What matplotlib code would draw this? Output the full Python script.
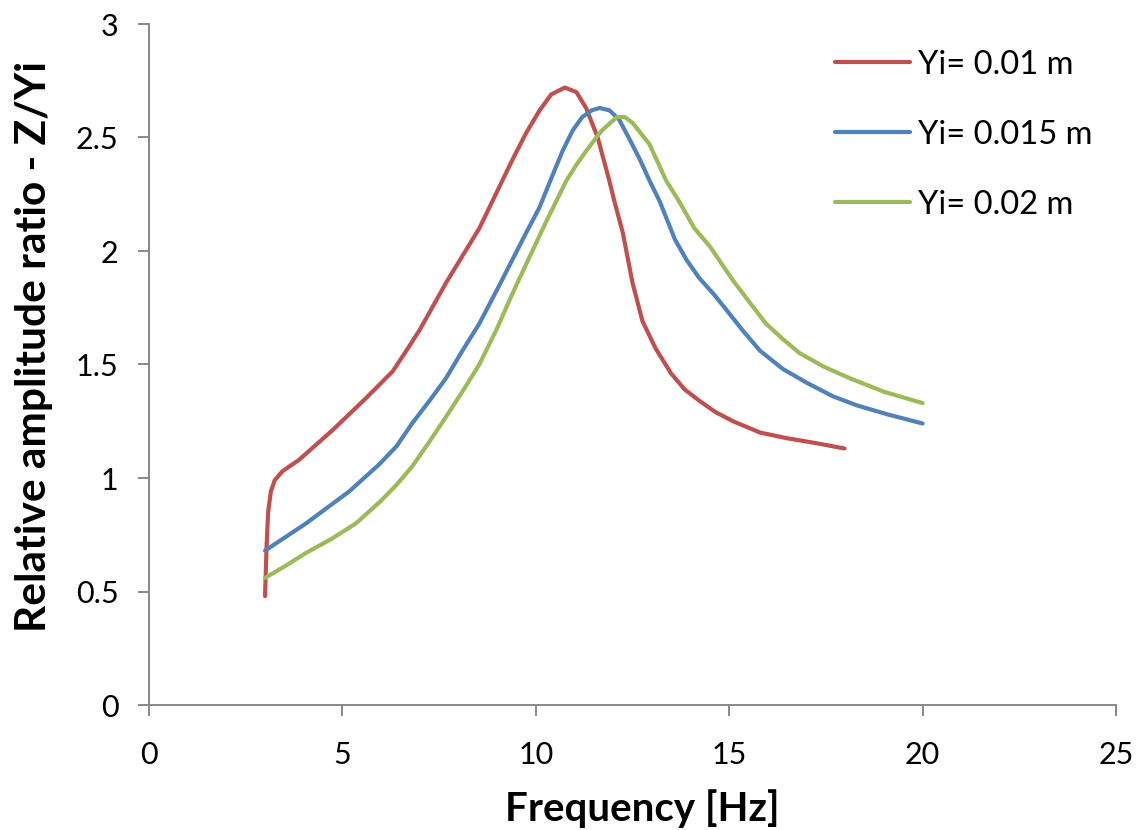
import matplotlib
matplotlib.use("Agg")
import matplotlib.pyplot as plt

# Data (frequency in Hz, relative amplitude Z/Yi)
x_r = [3.0, 3.04, 3.08, 3.15, 3.25, 3.45, 3.88, 4.74, 5.6, 6.3, 6.65, 6.99, 7.68, 8.54, 9.39, 9.75,
       10.1, 10.4, 10.75, 11.05, 11.3, 11.6, 11.9, 12.03, 12.25, 12.5, 12.76, 13.1, 13.5, 13.85,
       14.23, 14.65, 15.1, 15.8, 16.5, 17.2, 17.98]
y_r = [0.48, 0.70, 0.85, 0.94, 0.99, 1.03, 1.08, 1.21, 1.35, 1.47, 1.56, 1.65, 1.86, 2.10, 2.40, 2.52,
       2.62, 2.69, 2.72, 2.70, 2.63, 2.50, 2.31, 2.22, 2.08, 1.86, 1.69, 1.57, 1.46, 1.39,
       1.34, 1.29, 1.25, 1.20, 1.175, 1.155, 1.13]

x_b = [3.0, 4.06, 5.17, 5.95, 6.4, 6.8, 7.25, 7.68, 8.1, 8.54, 9.0, 9.39, 9.75, 10.09, 10.4, 10.69,
       10.95, 11.2, 11.45, 11.65, 11.9, 12.15, 12.4, 12.7, 12.94, 13.2, 13.6, 13.9, 14.23, 14.6,
       14.93, 15.35, 15.8, 16.39, 17.0, 17.68, 18.3, 19.1, 20.0]
y_b = [0.68, 0.80, 0.94, 1.06, 1.14, 1.24, 1.34, 1.44, 1.56, 1.68, 1.83, 1.96, 2.08, 2.19, 2.32, 2.44,
       2.53, 2.59, 2.62, 2.63, 2.62, 2.58, 2.50, 2.40, 2.31, 2.22, 2.05, 1.96, 1.88, 1.81,
       1.74, 1.65, 1.56, 1.48, 1.42, 1.36, 1.32, 1.28, 1.24]

x_g = [3.0, 3.5, 4.06, 4.7, 5.35, 6.0, 6.4, 6.8, 7.25, 7.68, 8.1, 8.54, 9.0, 9.39, 9.8, 10.27,
       10.79, 11.05, 11.3, 11.7, 12.1, 12.3, 12.5, 12.8, 12.94, 13.37, 13.7, 14.1, 14.5, 15.1,
       15.5, 15.95, 16.4, 16.82, 17.45, 18.11, 19.0, 20.0]
y_g = [0.56, 0.61, 0.67, 0.73, 0.80, 0.90, 0.97, 1.05, 1.16, 1.27, 1.38, 1.50, 1.66, 1.81, 1.96, 2.13,
       2.31, 2.38, 2.44, 2.53, 2.59, 2.59, 2.565, 2.50, 2.47, 2.31, 2.22, 2.10, 2.02, 1.87,
       1.78, 1.68, 1.61, 1.55, 1.49, 1.44, 1.38, 1.33]

labels = ["Yi= 0.01 m", "Yi= 0.015 m", "Yi= 0.02 m"]
colors = ["#C0504D", "#4F81BD", "#9BBB59"]

x_ticks = [0, 5, 10, 15, 20, 25]
y_ticks = [0, 0.5, 1, 1.5, 2, 2.5, 3]
y_tick_labels = ["0", "0.5", "1", "1.5", "2", "2.5", "3"]

plt.rcParams['font.family'] = ['Lato', 'DejaVu Sans']

fig = plt.figure(figsize=(11.45, 8.3), dpi=100)
ax = fig.add_axes([149/1145, 1-705/830, (1116-149)/1145, (705-24)/830])

for xs, ys, c, lab in zip([x_r, x_b, x_g], [y_r, y_b, y_g], colors, labels):
    ax.plot(xs, ys, color=c, lw=3.0, label=lab, solid_capstyle='round', solid_joinstyle='round')

ax.set_xlim(0, 25)
ax.set_ylim(0, 3)
ax.set_xticks(x_ticks)
ax.set_yticks(y_ticks)
ax.set_xticklabels([str(v) for v in x_ticks])
ax.set_yticklabels(y_tick_labels)

for s in ["top", "right"]:
    ax.spines[s].set_visible(False)
for s in ["left", "bottom"]:
    ax.spines[s].set_color("#888888")
    ax.spines[s].set_linewidth(1.4)
ax.tick_params(axis='both', direction='out', length=8, width=1.4, color="#888888",
               labelsize=22, labelcolor="#000000")
ax.tick_params(axis='x', pad=18)
ax.tick_params(axis='y', pad=14)

ax.set_xlabel("Frequency [Hz]", fontsize=29, fontweight='bold')
ax.xaxis.set_label_coords((642-149)/967, -0.123)
ax.set_ylabel("Relative amplitude ratio - Z/Yi", fontsize=30.5, fontweight='bold')
ax.yaxis.set_label_coords(-0.099, (705-346)/681)

leg = ax.legend(loc='upper left', bbox_to_anchor=(0.709, 0.962), frameon=False, fontsize=23.5,
                handlelength=2.3, labelspacing=1.22, handletextpad=0.25, borderpad=0,
                borderaxespad=0)

fig.savefig("out.png", dpi=100, facecolor="white")
